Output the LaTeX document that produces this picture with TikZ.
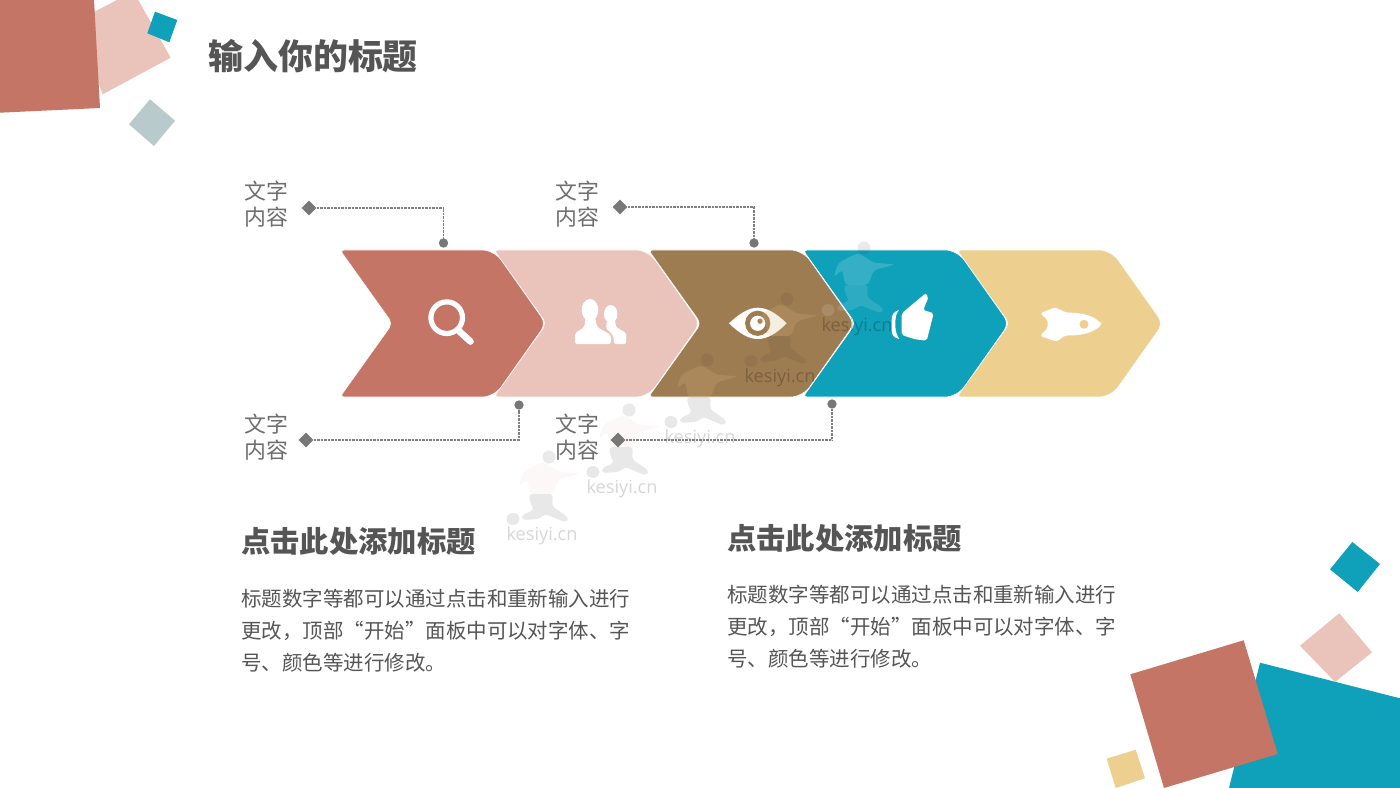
\documentclass[tikz,border=0pt]{standalone}
\usepackage{fontspec}
\setmainfont{Noto Sans CJK SC}
\newfontfamily\wmfont{Open Sans}
\usetikzlibrary{shapes.geometric,calc}
\definecolor{cRed}{HTML}{C47565}
\definecolor{cPink}{HTML}{EAC4BB}
\definecolor{cBrown}{HTML}{9E7C52}
\definecolor{cTeal}{HTML}{0FA0BA}
\definecolor{cYellow}{HTML}{EDD08F}
\definecolor{cSlate}{HTML}{B8CACB}
\definecolor{cLine}{HTML}{808080}
\definecolor{cPinD}{HTML}{777777}
\definecolor{cText}{HTML}{555555}
\definecolor{cLabel}{HTML}{6E6E6E}
\tikzset{
  lab/.style={anchor=west,inner sep=0pt,align=left,text=cLabel,font=\fontsize{16.4pt}{19.6pt}\selectfont},
  mainhead/.style={anchor=west,inner sep=0pt,text=cText,font=\fontsize{26.2pt}{30pt}\selectfont\bfseries},
  subhead/.style={anchor=west,inner sep=0pt,text=cText,font=\fontsize{22pt}{26pt}\selectfont\bfseries},
  bodytext/.style={anchor=west,inner sep=0pt,align=left,text=cText,font=\fontsize{15.36pt}{24pt}\selectfont},
  pin/.style={diamond,fill=cPinD,inner sep=0pt,minimum size=11.2pt},
  knob/.style={circle,fill=cPinD,inner sep=0pt,minimum size=7pt},
  link/.style={draw=cLine,line width=0.85pt,dash pattern=on 0.7pt off 0.35pt},
  wmtext/.style={inner sep=0pt,font=\wmfont\fontsize{13.6pt}{15pt}\selectfont}
}
\newcommand{\chevshape}[2]{%
  \path[fill=#2,draw=white,line width=0.4pt,shift={(#1,0)}]
    (340,250) [rounded corners=9pt] -- (494,250)
    [rounded corners=6pt] -- (546,323.5) [rounded corners=9pt] -- (494,397)
    [rounded corners=3pt] -- (340,397) [rounded corners=4pt] -- (392.5,323.5) [rounded corners=3pt] -- cycle;
}
% x, y, torso colour, torso opacity, legs colour, legs opacity, text opacity
\newcommand{\wmfig}[7]{%
  \begin{scope}[shift={(#1,#2)}]
    \fill[#5,opacity=#6,rounded corners=2.5pt] (-13,-42) -- (11,-42) -- (10,-30) -- (27,-18) -- (24,-13.5) -- (3,-22) -- (-3,-17) -- (-20,-16) -- (-20,-21) -- (-8,-26) -- (-12,-34) -- cycle;
    \fill[#5,opacity=#6] (-29,-17) ellipse[x radius=6.5,y radius=6];
    \fill[#3,opacity=#4,rounded corners=3pt] (-23.7,-49.3) -- (-18.7,-64.3) -- (1.3,-74.3) -- (16.3,-64.3) -- (38.7,-62.7) -- (16.3,-56.7) -- (11.3,-42) -- (-12,-42) -- (-14.7,-57.7) -- cycle;
    \fill[black!80,opacity=.1] (7,-79) circle[radius=6.5];
    \node[wmtext,text=black,opacity=#7] at (0,0) {kesiyi.cn};
  \end{scope}}
\begin{document}
\begin{tikzpicture}[x=0.75pt,y=-0.75pt]
\useasboundingbox (0,0) rectangle (1400,788);
\fill[white] (0,0) rectangle (1400,788);
% corner decorations, top left
\fill[cPink] (117,0) -- (138.3,0) -- (170.7,57.7) -- (102.7,94.3) -- (90,60) -- (90,14) -- cycle;
\fill[cRed] (0,0) -- (94,0) -- (100,108) -- (0,112.7) -- cycle;
\fill[cTeal] (155,11.7) -- (177.3,20) -- (169.3,42.3) -- (147.3,33.3) -- cycle;
\fill[cSlate] (150,99.3) -- (175,120.7) -- (154,146) -- (129,124.3) -- cycle;
% corner decorations, bottom right
\fill[cTeal] (1352.3,542) -- (1380,564) -- (1357.7,592) -- (1330,569.3) -- cycle;
\fill[cPink] (1339.3,613.3) -- (1372,652.3) -- (1335,682) -- (1300,645.7) -- cycle;
\fill[cTeal] (1260,662.7) -- (1400,698.3) -- (1400,788) -- (1229,788) -- cycle;
\fill[cRed] (1243.7,640.3) -- (1277.7,754) -- (1164,788) -- (1130.3,674.3) -- cycle;
\fill[cYellow] (1135.7,749.7) -- (1145,778.3) -- (1115.7,788) -- (1106.7,758.7) -- cycle;
% chevrons
\chevshape{617}{cYellow}
\chevshape{463}{cTeal}
\chevshape{308.5}{cBrown}
\chevshape{154}{cPink}
\chevshape{0}{cRed}
% magnifier
\draw[white,line width=3.9pt] (446.7,317.7) circle[radius=15.8];
\draw[white,line width=5pt,line cap=round] (459,331) -- (470.5,341.5);
% people
\fill[white] (610.7,314) ellipse[x radius=6.7,y radius=9];
\fill[white,rounded corners=1pt] (614,344) -- (613.3,335.7) -- (606,328) -- (607.3,320) -- (615,320) -- (616,327) -- (626,333) -- (626,344) -- cycle;
\fill[white] (590,310) ellipse[x radius=8.3,y radius=11];
\fill[white,rounded corners=1.5pt] (575,344) -- (575,333) -- (584.5,327) -- (585.5,317) -- (595,317) -- (597,327) -- (611,335) -- (611,344) -- cycle;
% eye
\fill[white] (729,323.3) .. controls (740,313) and (749,307.7) .. (757.7,307.7) .. controls (767,307.7) and (776,313) .. (786.7,323.3) .. controls (776,334) and (767,339) .. (757.7,339) .. controls (749,339) and (740,334) .. (729,323.3) -- cycle;
\fill[cBrown] (757.7,323.3) circle[radius=12.6];
\fill[white] (757.7,323.3) circle[radius=7.6];
\fill[cBrown] (760,321.2) circle[radius=2.6];
% thumb
\fill[white,rounded corners=1.5pt] (901.7,313.3) -- (925.7,293.3) -- (928.5,297) -- (923.3,310) -- (933.7,313.3) -- (926.7,340.7) -- (915,339.3) -- (901.7,335) -- cycle;
\fill[white] (899,310) .. controls (893,312) and (891.7,315) .. (891.7,320) -- (891.7,330) .. controls (891.7,335) and (894,338) .. (899.3,339) .. controls (896.5,335) and (895.3,330) .. (895.3,325) .. controls (895.3,318) and (896,313) .. (899,310) -- cycle;
% rocket
\fill[white,rounded corners=2pt] (1101.7,324.3) .. controls (1094,316) and (1084,313) .. (1066,312.5) -- (1055,307.3) -- (1040,313.3) -- (1047.7,320) -- (1047.7,328) -- (1040,336) -- (1056.7,341.7) -- (1065,335.5) .. controls (1084,335.5) and (1094,332) .. (1101.7,324.3) -- cycle;
\fill[cYellow] (1084,324.3) circle[radius=4.5];
% watermark
\wmfig{542}{536}{cRed!35}{.14}{black}{.09}{.16}
\wmfig{622}{489}{cRed!35}{.14}{black}{.09}{.16}
\wmfig{700}{439}{cYellow!70!cBrown}{.22}{black}{.09}{.16}
\wmfig{780}{378}{cYellow!70!cBrown}{.22}{black}{.06}{.22}
\wmfig{857}{327}{white}{.16}{white}{.12}{.22}
% connectors
\node[pin] (p1) at (309,208) {};
\node[knob] (k1) at (443.5,243) {};
\draw[link] (p1) -| (k1);
\node[pin] (p2) at (620,207) {};
\node[knob] (k2) at (754,243) {};
\draw[link] (p2) -| (k2);
\node[pin] (p3) at (306,440) {};
\node[knob] (k3) at (519,405) {};
\draw[link] (p3) -| (k3);
\node[pin] (p4) at (618,440) {};
\node[knob] (k4) at (832,404) {};
\draw[link] (p4) -| (k4);
% labels
\node[lab] (l1) at (244,204.5) {文字\\内容};
\node[lab] (l2) at (555,204) {文字\\内容};
\node[lab] (l3) at (244,437.5) {文字\\内容};
\node[lab] (l4) at (555,437.5) {文字\\内容};
% titles
\node[mainhead] (title) at (208,56) {输入你的标题};
\node[subhead] (h1) at (241,541) {点击此处添加标题};
\node[subhead] (h2) at (727,538) {点击此处添加标题};
\node[bodytext] (b1) at (241,631) {标题数字等都可以通过点击和重新输入进行\\更改，顶部“开始”面板中可以对字体、字\\号、颜色等进行修改。};
\node[bodytext] (b2) at (727,627) {标题数字等都可以通过点击和重新输入进行\\更改，顶部“开始”面板中可以对字体、字\\号、颜色等进行修改。};
\end{tikzpicture}
\end{document}
